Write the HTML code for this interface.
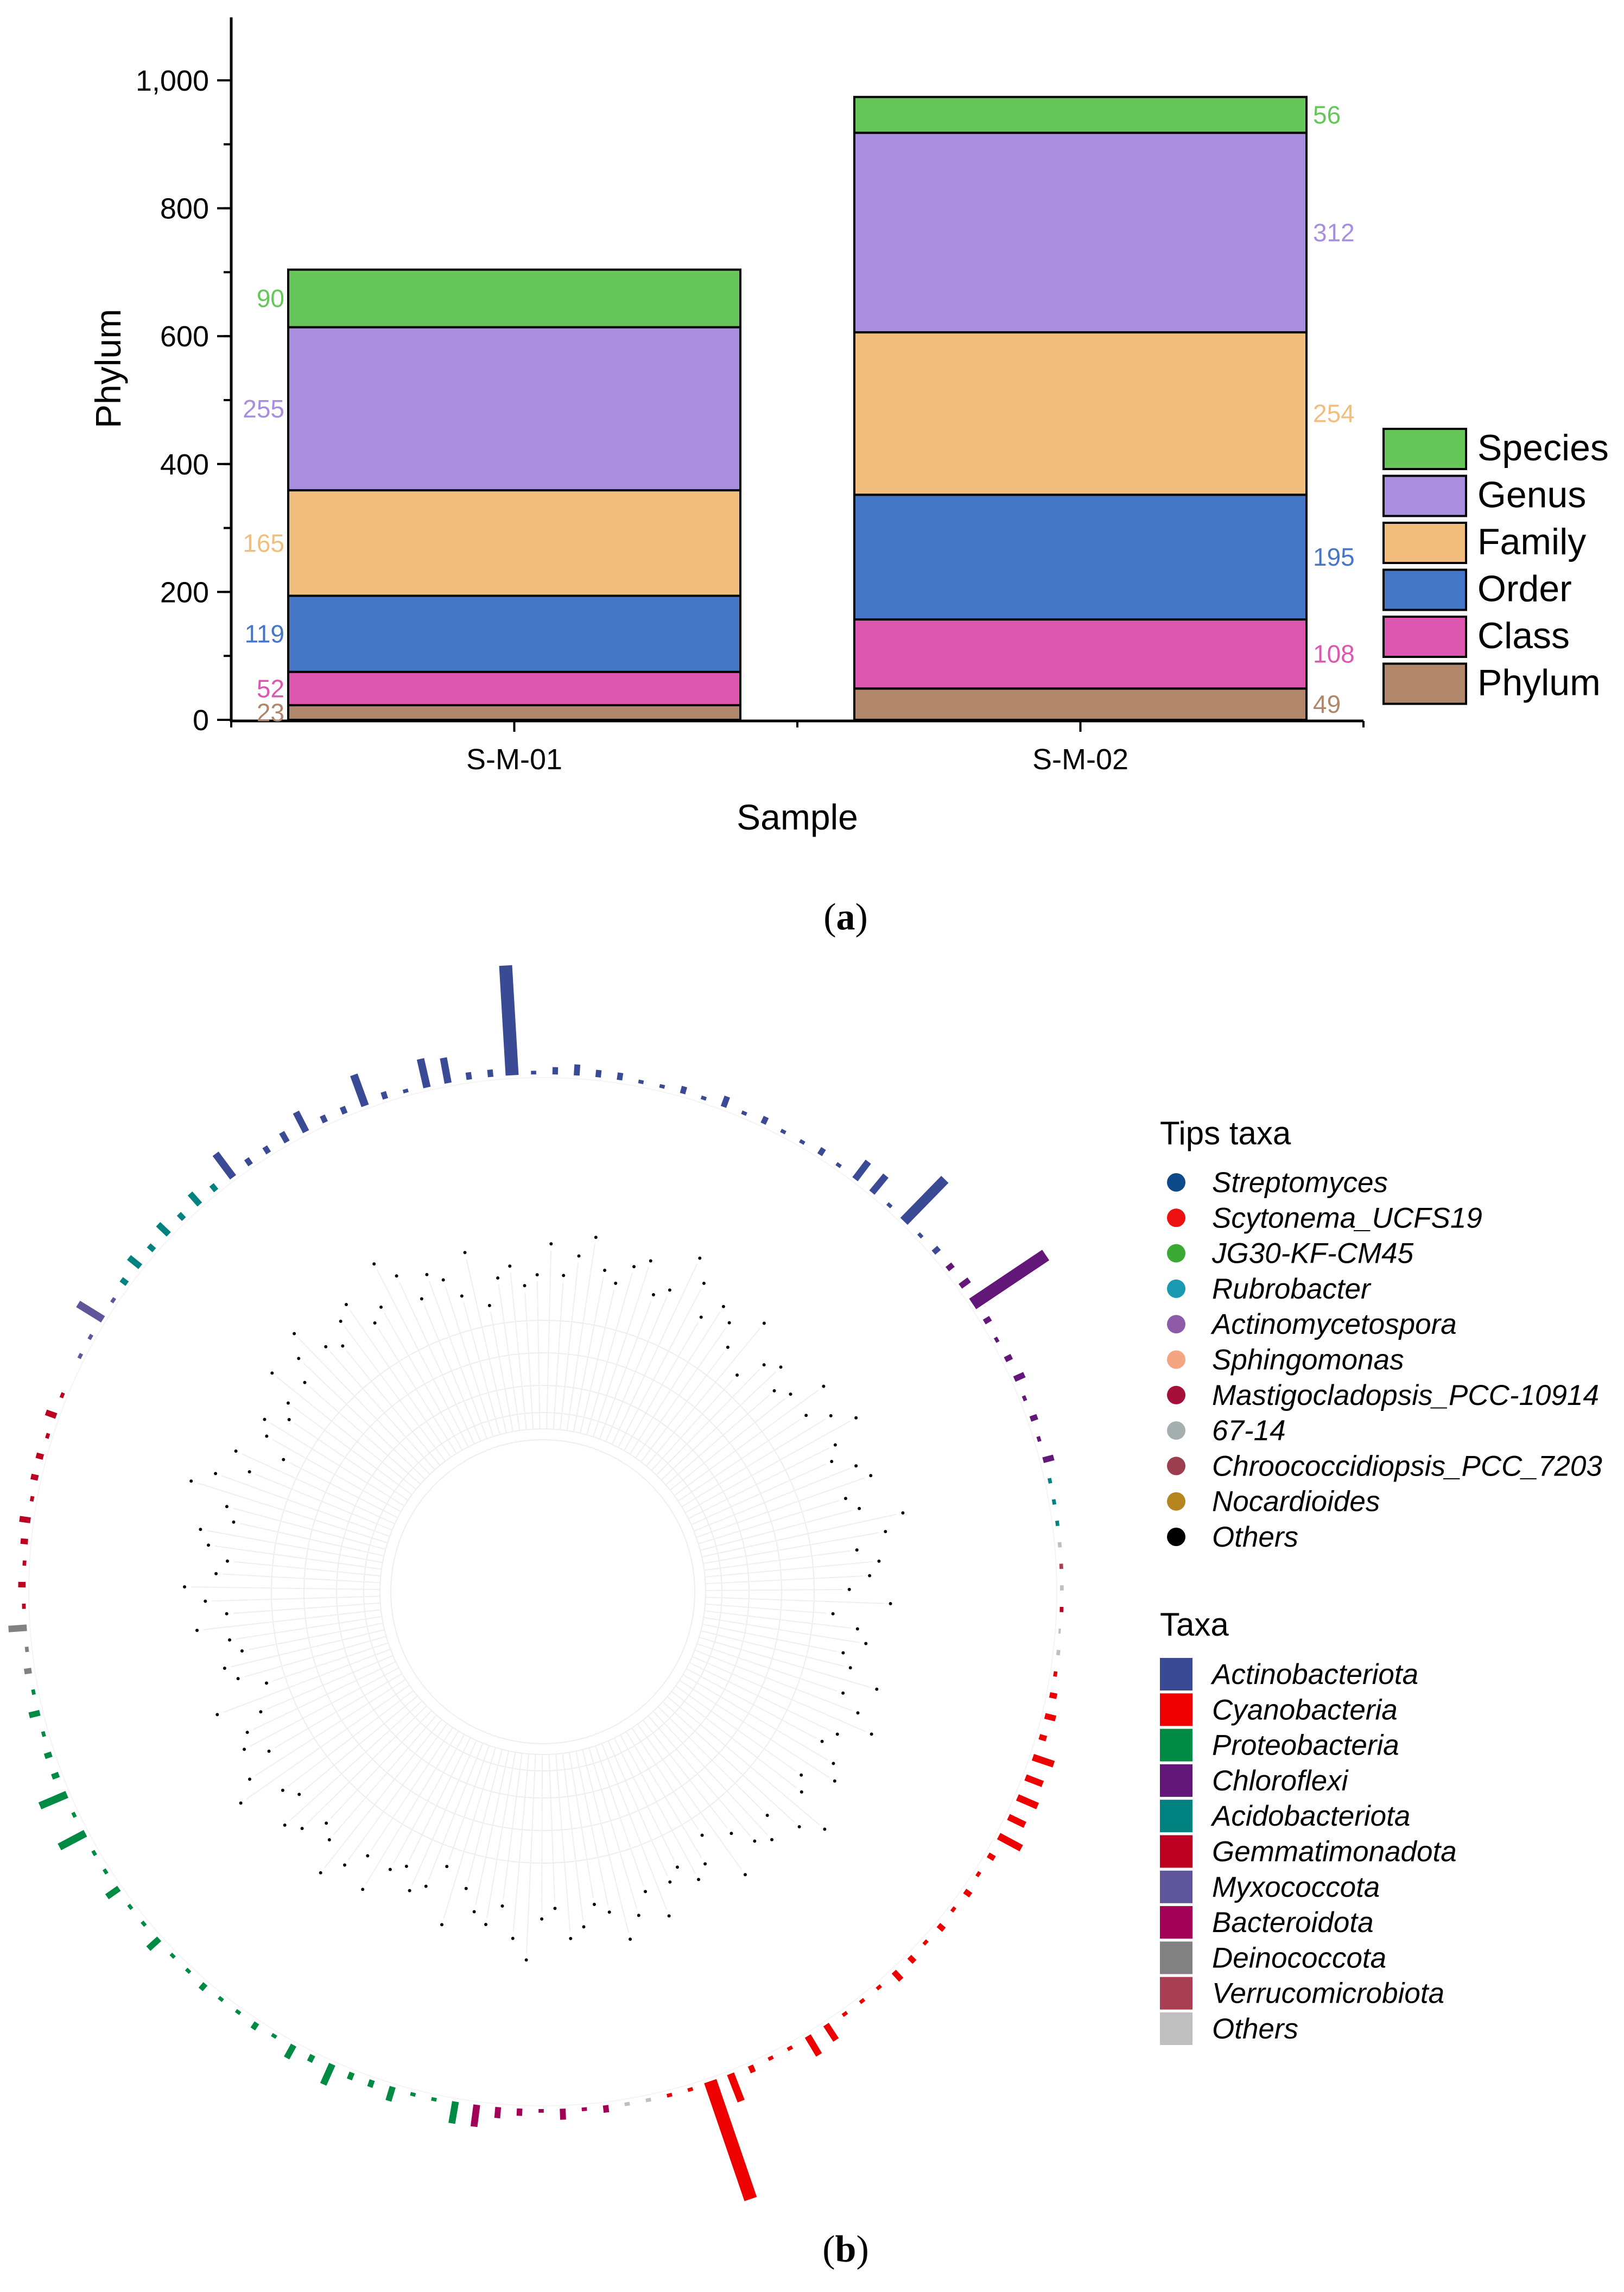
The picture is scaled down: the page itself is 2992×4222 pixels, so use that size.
<!DOCTYPE html>
<html><head><meta charset="utf-8"><style>
html,body{margin:0;padding:0;background:#fff}
svg{display:block}
text{font-family:"Liberation Sans",sans-serif}
</style></head><body>
<svg id="fig" width="2992" height="4222" viewBox="0 0 2992 4222" xmlns="http://www.w3.org/2000/svg">
<g id="chartA"></g>
<g id="chartB"></g>
<g id="legendB"></g>
<text x="1558" y="1712" font-size="70" text-anchor="middle" style="font-family:'Liberation Serif',serif">(<tspan font-weight="bold">a</tspan>)</text>
<text x="1558" y="4166" font-size="70" text-anchor="middle" style="font-family:'Liberation Serif',serif">(<tspan font-weight="bold">b</tspan>)</text>
</svg>
<script>
const NS="http://www.w3.org/2000/svg";
// ---- Chart A data ----
const samples=["S-M-01","S-M-02"];
const levels=["Phylum","Class","Order","Family","Genus","Species"];
const levelColors=["#B0876A","#DD57B0","#4677C6","#F2BE7D","#A98EE0","#66C659"];
const seriesSM01=[23,52,119,165,255,90];
const seriesSM02=[49,108,195,254,312,56];
const yTicks=[0,200,400,600,800,1000];
const yTickLabels=["0","200","400","600","800","1,000"];

// ---- Chart B data ----
const taxaNames=["Actinobacteriota","Cyanobacteria","Proteobacteria","Chloroflexi","Acidobacteriota","Gemmatimonadota","Myxococcota","Bacteroidota","Deinococcota","Verrucomicrobiota","Others"];
const taxaColors=["#3B4A94","#EE0000","#008B45","#631879","#008280","#BB0021","#5F559B","#A20056","#808180","#AA3F54","#BFBFBF"];
const tipNames=["Streptomyces","Scytonema_UCFS19","JG30-KF-CM45","Rubrobacter","Actinomycetospora","Sphingomonas","Mastigocladopsis_PCC-10914","67-14","Chroococcidiopsis_PCC_7203","Nocardioides","Others"];
const tipColors=["#0D4A8A","#EE1111","#3AAA35","#1A9AB0","#8E5BA6","#F4A582","#A50F3A","#A6AFB0","#9C3D50","#B5861E","#000000"];
// ring tips clockwise, starting near -63deg
const tipTaxa=[6,6,6,6, 4,4,4,4,4,4,4,
 0,0,0,0,0,0,0,0,0,0,0,0,0,0,0,0,0,0,0,0,0,0,0,0,0,0,0,0,0,0,0,0,0,0,0,0,0,
 3,3,3,3,3,3,3,3,3,3,3, 4,4,4, 10,9,10,5,10,10,1,
 1,1,1,1,1,1,1,1,1,1,1,1,1,1,1,1,1,1,1,1,1,1,1,1,1,1,1,1,
 10,10, 7,7,7,7,7,7,7,
 2,2,2,2,2,2,2,2,2,2,2,2,2,2,2,2,2,2,2,2,2,2,2,2,2,2,2,2,2,2,
 8,8,8, 5,5,5,5,5,5,5,5,5,5,5,5];
const tipHeights=[0.5,0.5,4,0.5, 1,2,1,2,1,2,1,
 4,1,1,1.5,3,1,1,4.5,1,0.5,4,3.5,1,1,15,0.5,1,1.5,1,1,0.5,0.5,1,0.5,1.5,0.5,1,0.5,0.5,1,0.5,3,3,0.5,8,0.5,
 1,1,1.5,12,1,0.5,1,1.5,0.5,1,0.5, 1.5,0.5,0.5, 0.5,0.5,0.5,0.5,0.5,0.3,0.5,
 0.5,1,1.5,1,3,2.5,3,2.5,3.5,1,0.5,1,0.5,1,0.5,1,1.5,0.5,0.5,0.5,2.5,3,0.5,0.5,1,4,17,0.5,
 0.5,0.5, 0.5,1,0.5,1.5,0.5,1,1.5,
 3,3,0.5,0.5,2,1,1,3,1,2,0.5,1,0.5,0.5,1,0.5,0.5,2,0.5,0.5,2,0.5,0.5,4,0.5,4,1,1,0.5,1.5,
 0.5,1,0.5, 2.5,0.5,1,0.5,1,1.5,0.5,1,1,0.5,1.5,0.5];
const tipDepth=[0.55,0.6,0.62,0.58,0.6,0.66,0.6,0.64,0.68,0.62,0.6,0.64,0.66,0.6,0.62,0.7,0.66,0.6,0.64,0.62,0.58,0.66];

function el(tag,attrs,parent){const e=document.createElementNS(NS,tag);for(const k in attrs)e.setAttribute(k,attrs[k]);parent.appendChild(e);return e;}

// ===== Chart A =====
(function(){
 const g=document.getElementById('chartA');
 const y0=1326,yPer=(1326-148)/1000;
 const Y=v=>y0-v*yPer;
 const barX=[531,1574],barW=833;
 const ax=el('line',{x1:426,y1:32,x2:426,y2:1330,stroke:'#000','stroke-width':5},g);
 
 const bx=el('line',{x1:424,y1:1328,x2:2512,y2:1328,stroke:'#000','stroke-width':5},g);
 
 for(let v=100;v<=1000;v+=100){const t=el('line',{x1:412,y1:Y(v),x2:426,y2:Y(v),stroke:'#000','stroke-width':4},g);}
 yTicks.forEach((v,i)=>{
  const t=el('line',{x1:400,y1:Y(v),x2:426,y2:Y(v),stroke:'#000','stroke-width':4},g);
  
  const l=el('text',{x:385,y:Y(v)+19,'font-size':54,'text-anchor':'end'},g);l.textContent=yTickLabels[i];
  
 });
 [426,1469,2512].forEach(x=>{const t=el('line',{x1:x,y1:1328,x2:x,y2:1340,stroke:'#000','stroke-width':4},g);});
 const yt=el('text',{x:0,y:0,'font-size':66,'text-anchor':'middle',transform:'translate(222,679) rotate(-90)'},g);yt.textContent='Phylum';
 
 const xt=el('text',{x:1469,y:1528,'font-size':66,'text-anchor':'middle'},g);xt.textContent='Sample';
 
 const series=[seriesSM01,seriesSM02];
 samples.forEach((s,si)=>{
  const cx=barX[si]+barW/2;
  const t=el('line',{x1:cx,y1:1328,x2:cx,y2:1348,stroke:'#000','stroke-width':4},g);
  const lab=el('text',{x:cx,y:1417,'font-size':54,'text-anchor':'middle'},g);lab.textContent=s;
  
  let acc=0;
  series[si].forEach((v,li)=>{
   const r=el('rect',{x:barX[si],y:Y(acc+v),width:barW,height:v*yPer,fill:levelColors[li],stroke:'#000','stroke-width':4},g);
   
   const mid=Y(acc+v/2);
   const vl=el('text',{x:si===0?barX[si]-7:barX[si]+barW+12,y:mid+16,'font-size':46,'text-anchor':si===0?'end':'start',fill:levelColors[li]},g);
   vl.textContent=v;
   acc+=v;
  });
 });
 for(let i=0;i<6;i++){
  const li=5-i,y=790+i*86.5;
  const r=el('rect',{x:2549,y:y,width:152,height:74,fill:levelColors[li],stroke:'#000','stroke-width':4},g);
  
  const t=el('text',{x:2722,y:y+58,'font-size':68},g);t.textContent=levels[li];
  
 }
})();

// ===== Chart B =====
(function(){
 const g=document.getElementById('chartB');
 const cx=1000,cy=2932,R0=953,unit=13.5,start=-63;
 const n=tipTaxa.length,step=360/n;
 [280,300,330,380,440,500].forEach(r=>{const c=el('circle',{cx:cx,cy:cy,r:r,fill:'none',stroke:'#eeeeee','stroke-width':2},g);});
 const ring=el('circle',{cx:cx,cy:cy,r:R0-6,fill:'none',stroke:'#f4f4f4','stroke-width':2},g);
 for(let i=0;i<n;i++){
  const a=(start+i*step)*Math.PI/180,sx=Math.sin(a),cy_=-Math.cos(a);
  const d=tipDepth[i%tipDepth.length]*R0;
  const br=el('line',{x1:cx+sx*300,y1:cy+cy_*300,x2:cx+sx*d,y2:cy+cy_*d,stroke:'#efefef','stroke-width':2},g);
  
  const dot=el('circle',{cx:cx+sx*(d+12),cy:cy+cy_*(d+12),r:3,fill:tipColors[10]},g);
  
 }
 for(let i=0;i<n;i++){
  const ang=start+i*step;
  const h=tipHeights[i]*unit,w=Math.min(9+tipHeights[i]*1.2,24);
  const bar=el('rect',{x:-w/2,y:-(R0+h),width:w,height:h,fill:taxaColors[tipTaxa[i]],transform:`translate(${cx},${cy}) rotate(${ang})`},g);
  
 }
})();

// ===== Legends B =====
(function(){
 const g=document.getElementById('legendB');
 const t1=el('text',{x:2137,y:2108,'font-size':60},g);t1.textContent='Tips taxa';
 
 tipNames.forEach((nm,i)=>{
  const y=2178+i*65.3;
  const c=el('circle',{cx:2167,cy:y,r:17,fill:tipColors[i]},g);
  const t=el('text',{x:2233,y:y+18,'font-size':53,'font-style':'italic'},g);t.textContent=nm;
  
 });
 const t2=el('text',{x:2137,y:3013,'font-size':60},g);t2.textContent='Taxa';
 
 taxaNames.forEach((nm,i)=>{
  const y=3084+i*65.3;
  const r=el('rect',{x:2137,y:y-30,width:60,height:60,fill:taxaColors[i]},g);
  const t=el('text',{x:2233,y:y+18,'font-size':53,'font-style':'italic'},g);t.textContent=nm;
  
 });
})();
</script>
</body></html>
